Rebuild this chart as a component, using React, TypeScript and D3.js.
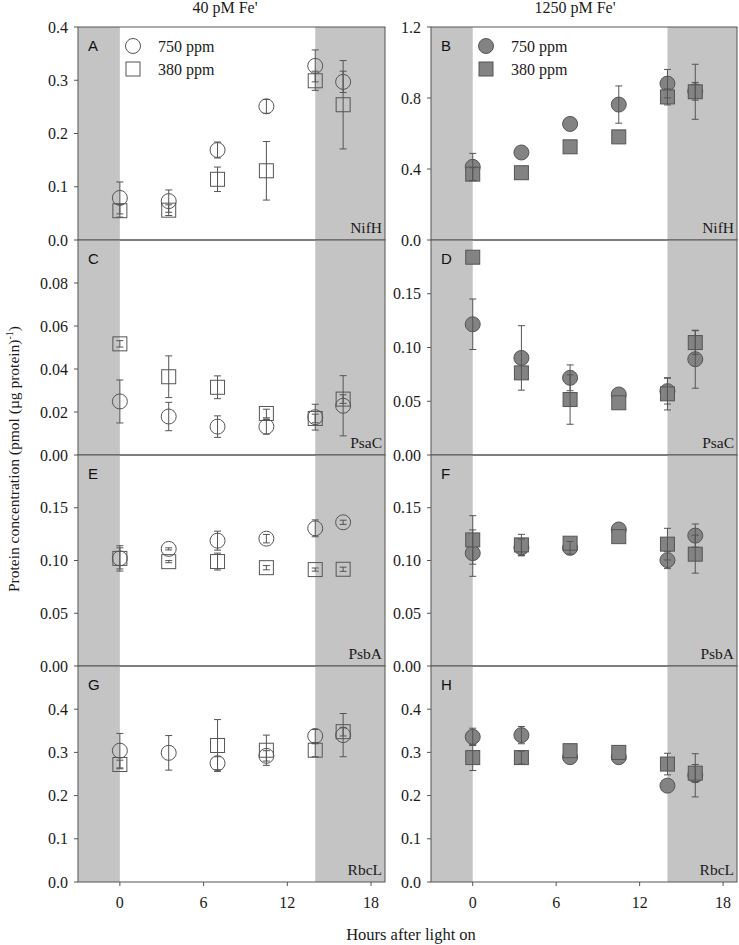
import React from "react";
import * as d3 from "d3";

const hours = [0, 3.5, 7, 10.5, 14, 16];
const xTicks = [0, 6, 12, 18];
const columnTitles = ["40 pM Fe'", "1250 pM Fe'"];
const seriesNames = ["750 ppm", "380 ppm"];

// Panel A: NifH, 40 pM
const nifH40_750 = [0.079, 0.073, 0.169, 0.251, 0.327, 0.297];
const nifH40_750e = [0.03, 0.021, 0.015, 0.013, 0.03, 0.02];
const nifH40_380 = [0.055, 0.056, 0.114, 0.13, 0.299, 0.254];
const nifH40_380e = [0.012, 0.01, 0.023, 0.055, 0.018, 0.083];
// Panel B: NifH, 1250 pM
const nifH1250_750 = [0.412, 0.493, 0.654, 0.763, 0.881, 0.838];
const nifH1250_750e = [0.076, 0, 0, 0.105, 0.08, 0.05];
const nifH1250_380 = [0.371, 0.379, 0.525, 0.581, 0.806, 0.835];
const nifH1250_380e = [0.036, 0, 0, 0, 0.045, 0.155];
// Panel C: PsaC, 40 pM
const psaC40_750 = [0.0249, 0.0179, 0.0132, 0.0132, 0.0176, 0.0229];
const psaC40_750e = [0.01, 0.0066, 0.005, 0.0035, 0.006, 0.014];
const psaC40_380 = [0.0517, 0.0364, 0.0315, 0.0193, 0.017, 0.026];
const psaC40_380e = [0.0015, 0.0097, 0.0053, 0.002, 0.002, 0.002];
// Panel D: PsaC, 1250 pM
const psaC1250_750 = [0.1216, 0.0903, 0.0718, 0.0563, 0.0594, 0.0891];
const psaC1250_750e = [0.0235, 0.03, 0.012, 0, 0.012, 0.027];
const psaC1250_380 = [0.184, 0.0764, 0.0516, 0.0486, 0.0569, 0.1046];
const psaC1250_380e = [0, 0, 0.023, 0, 0.015, 0.011];
// Panel E: PsbA, 40 pM
const psbA40_750 = [0.102, 0.111, 0.1188, 0.1207, 0.1305, 0.1362];
const psbA40_750e = [0.012, 0.001, 0.009, 0.004, 0.008, 0.002];
const psbA40_380 = [0.102, 0.0989, 0.099, 0.0932, 0.0914, 0.0917];
const psbA40_380e = [0.01, 0.001, 0.008, 0.002, 0.0015, 0.002];
// Panel F: PsbA, 1250 pM
const psbA1250_750 = [0.107, 0.1124, 0.112, 0.1294, 0.1003, 0.1236];
const psbA1250_750e = [0.022, 0.008, 0.006, 0, 0.008, 0.011];
const psbA1250_380 = [0.1195, 0.1148, 0.1164, 0.1226, 0.1155, 0.106];
const psbA1250_380e = [0.023, 0.01, 0, 0, 0.015, 0.018];
// Panel G: RbcL, 40 pM
const rbcL40_750 = [0.304, 0.299, 0.275, 0.292, 0.338, 0.34];
const rbcL40_750e = [0.04, 0.04, 0.015, 0.012, 0.015, 0.05];
const rbcL40_380 = [0.272, null, 0.316, 0.305, 0.305, 0.348];
const rbcL40_380e = [0.01, 0, 0.06, 0.035, 0.015, 0.01];
// Panel H: RbcL, 1250 pM
const rbcL1250_750 = [0.336, 0.34, 0.289, 0.289, 0.223, 0.247];
const rbcL1250_750e = [0.02, 0.02, 0, 0, 0, 0.05];
const rbcL1250_380 = [0.288, 0.288, 0.304, 0.3, 0.273, 0.252];
const rbcL1250_380e = [0.03, 0.015, 0, 0, 0.025, 0.02];

const proteins = ["NifH", "PsaC", "PsbA", "RbcL"];
const letters = [["A", "B"], ["C", "D"], ["E", "F"], ["G", "H"]];
const yMax = [[0.4, 1.2], [0.1, 0.2], [0.2, 0.2], [0.5, 0.5]];
const yTicks = [
  [[0, 0.1, 0.2, 0.3, 0.4], [0, 0.4, 0.8, 1.2]],
  [[0, 0.02, 0.04, 0.06, 0.08], [0, 0.05, 0.1, 0.15]],
  [[0, 0.05, 0.1, 0.15], [0, 0.05, 0.1, 0.15]],
  [[0, 0.1, 0.2, 0.3, 0.4], [0, 0.1, 0.2, 0.3, 0.4]],
];
const yFmt = [".1f", ".2f", ".2f", ".1f"];

const data750 = [
  [[nifH40_750, nifH40_750e], [nifH1250_750, nifH1250_750e]],
  [[psaC40_750, psaC40_750e], [psaC1250_750, psaC1250_750e]],
  [[psbA40_750, psbA40_750e], [psbA1250_750, psbA1250_750e]],
  [[rbcL40_750, rbcL40_750e], [rbcL1250_750, rbcL1250_750e]],
];
const data380 = [
  [[nifH40_380, nifH40_380e], [nifH1250_380, nifH1250_380e]],
  [[psaC40_380, psaC40_380e], [psaC1250_380, psaC1250_380e]],
  [[psbA40_380, psbA40_380e], [psbA1250_380, psbA1250_380e]],
  [[rbcL40_380, rbcL40_380e], [rbcL1250_380, rbcL1250_380e]],
];

const darkStart = -3;
const darkEnd = 0;
const dark2Start = 14;
const xEnd = 19;

const W = 739;
const H = 945;
const colX = [
  [78, 385],
  [431, 737],
];
const rowY = [27, 240, 455, 666, 882];

const serif = "'Liberation Serif', 'Times New Roman', serif";
const sans = "'Liberation Sans', Arial, sans-serif";
const shade = "#c4c4c4";
const lineC = "#555";
const fillC = "#838383";
const textC = "#1a1a1a";

function Panel({ r, c }: { r: number; c: number }) {
  const [x0, x1] = colX[c];
  const top = rowY[r];
  const bot = rowY[r + 1];
  const x = d3.scaleLinear().domain([darkStart, xEnd]).range([x0, x1]);
  const y = d3.scaleLinear().domain([0, yMax[r][c]]).range([bot, top]);
  const fmt = d3.format(yFmt[r]);
  const filled = c === 1;
  const [v750, e750] = data750[r][c];
  const [v380, e380] = data380[r][c];
  const rad = 7.5;
  const half = 7;
  const cap = 3.5;
  const isBottom = r === 3;

  const errBar = (vals: (number | null)[], errs: number[], key: string) =>
    vals.map((v, i) => {
      if (v == null || !errs[i]) return null;
      const cx = x(hours[i]);
      const y1 = y(v + errs[i]);
      const y2 = y(v - errs[i]);
      return (
        <g key={key + i} stroke={lineC} strokeWidth={1}>
          <line x1={cx} x2={cx} y1={y1} y2={y2} />
          <line x1={cx - cap} x2={cx + cap} y1={y1} y2={y1} />
          <line x1={cx - cap} x2={cx + cap} y1={y2} y2={y2} />
        </g>
      );
    });

  return (
    <g>
      <rect x={x(darkStart)} y={top} width={x(darkEnd) - x(darkStart)} height={bot - top} fill={shade} />
      <rect x={x(dark2Start)} y={top} width={x(xEnd) - x(dark2Start)} height={bot - top} fill={shade} />
      <rect x={x0} y={top} width={x1 - x0} height={bot - top} fill="none" stroke={lineC} strokeWidth={1} />
      {yTicks[r][c].map((t) => (
        <g key={t}>
          <line x1={x0 - 4} x2={x0} y1={y(t)} y2={y(t)} stroke={lineC} />
          <text x={x0 - 10} y={y(t)} dy="0.35em" textAnchor="end" fontFamily={serif} fontSize={16} fill={textC}>
            {fmt(t)}
          </text>
        </g>
      ))}
      {isBottom &&
        xTicks.map((t) => (
          <g key={"x" + t}>
            <line x1={x(t)} x2={x(t)} y1={bot} y2={bot + 4} stroke={lineC} />
            <text x={x(t)} y={bot + 26} textAnchor="middle" fontFamily={serif} fontSize={16} fill={textC}>
              {t}
            </text>
          </g>
        ))}
      <text x={x0 + 10} y={top + 24} fontFamily={sans} fontSize={15} fill="#111">
        {letters[r][c]}
      </text>
      <text x={x1 - 3} y={bot - 7} textAnchor="end" fontFamily={serif} fontSize={15.5} fill={textC}>
        {proteins[r]}
      </text>
      {v750.map((v, i) =>
        v == null ? null : (
          <circle
            key={"c" + i}
            cx={x(hours[i])}
            cy={y(v)}
            r={rad}
            fill={filled ? fillC : "none"}
            stroke={lineC}
            strokeWidth={1}
          />
        )
      )}
      {v380.map((v, i) =>
        v == null ? null : (
          <rect
            key={"s" + i}
            x={x(hours[i]) - half}
            y={y(v) - half}
            width={half * 2}
            height={half * 2}
            fill={filled ? fillC : "none"}
            stroke={lineC}
            strokeWidth={1}
          />
        )
      )}
      {errBar(v750, e750, "e7")}
      {errBar(v380 as (number | null)[], e380, "e3")}
      {r === 0 && (
        <g>
          <circle cx={x0 + 55} cy={top + 19} r={rad} fill={filled ? fillC : "none"} stroke={lineC} />
          <text x={x0 + 80} y={top + 19} dy="0.35em" fontFamily={serif} fontSize={16} fill={textC}>
            {seriesNames[0]}
          </text>
          <rect x={x0 + 55 - half} y={top + 42 - half} width={half * 2} height={half * 2} fill={filled ? fillC : "none"} stroke={lineC} />
          <text x={x0 + 80} y={top + 42} dy="0.35em" fontFamily={serif} fontSize={16} fill={textC}>
            {seriesNames[1]}
          </text>
        </g>
      )}
    </g>
  );
}

export default function App() {
  return (
    <svg width={W} height={H} style={{ position: "absolute", left: 0, top: 0, background: "#fff" }}>
      {columnTitles.map((t, c) => (
        <text key={t} x={c === 0 ? 225 : 575} y={13} textAnchor="middle" fontFamily={serif} fontSize={16} fill={textC}>
          {t}
        </text>
      ))}
      {[0, 1, 2, 3].map((r) => [0, 1].map((c) => <Panel key={r + "-" + c} r={r} c={c} />))}
      <text x={411} y={940} textAnchor="middle" fontFamily={serif} fontSize={16.5} fill={textC}>
        Hours after light on
      </text>
      <text transform="translate(19,459) rotate(-90)" textAnchor="middle" fontFamily={serif} fontSize={15.5} fill={textC}>
        Protein concentration (pmol (µg protein)
        <tspan dy={-6} fontSize={10}>-1</tspan>
        <tspan dy={6}>)</tspan>
      </text>
    </svg>
  );
}
